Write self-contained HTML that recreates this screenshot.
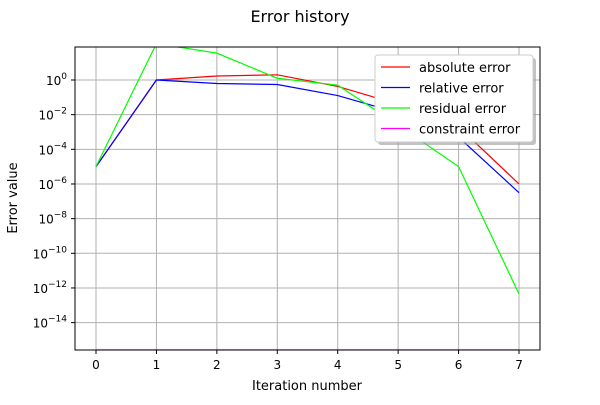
<!DOCTYPE html>
<html><head><meta charset="utf-8"><style>
body{margin:0;background:#fff;}
svg{font-family:"DejaVu Sans","Liberation Sans",sans-serif;}
</style></head><body>
<svg id="c" width="600" height="400" xmlns="http://www.w3.org/2000/svg">
<rect width="600" height="400" fill="#fff"/>
<text x="300" y="22" text-anchor="middle" font-size="16">Error history</text>
<defs><clipPath id="pc"><rect x="75" y="47" width="465" height="303"/></clipPath></defs>
<g id="grid"></g>
<g id="series" clip-path="url(#pc)"></g>
<rect x="75" y="47" width="465" height="303" fill="none" stroke="#000" stroke-width="1"/>
<g id="ticks"></g>
<text x="307" y="390" text-anchor="middle" font-size="13">Iteration number</text>
<text x="17" y="198" text-anchor="middle" font-size="13" transform="rotate(-90 17 198)">Error value</text>
<g id="legend">
<rect x="378" y="58" width="158" height="87" rx="3" fill="#999" opacity="0.6"/>
<rect x="375" y="55" width="158" height="87" rx="3" fill="#fff" stroke="#ccc"/>
</g>
</svg>
<script>
const iterations=[0,1,2,3,4,5,6,7];
const absoluteErr=[-5,0,0.23,0.3,-0.37,-1.4,-2.7,-6];
const relativeErr=[-5,0,-0.2,-0.26,-0.9,-1.9,-3.3,-6.5];
const residualErr=[-5,2.1,1.55,0.1,-0.3,-2.6,-5,-12.35];
const constraintErr=[-16,-16,-16,-16,-16,-16,-16,-16];
const yTicks=[0,-2,-4,-6,-8,-10,-12,-14];
const seriesNames=["absolute error","relative error","residual error","constraint error"];
const seriesColors=["#ff0000","#0000ff","#00ff00","#ff00ff"];
const NS="http://www.w3.org/2000/svg";
const X=v=>96+v*60.43, Y=l=>80-l*17.33;
function mk(t,a,p){const e=document.createElementNS(NS,t);for(const k in a)e.setAttribute(k,a[k]);p.appendChild(e);return e;}
const g=document.getElementById('grid'),tk=document.getElementById('ticks'),s=document.getElementById('series'),lg=document.getElementById('legend');
iterations.forEach(v=>{
 const l=mk('line',{x1:X(v),x2:X(v),y1:47,y2:350,stroke:'#b0b0b0','stroke-width':1},g);
 
 
 mk('line',{x1:X(v),x2:X(v),y1:350,y2:354,stroke:'#000'},tk);
 const t=mk('text',{x:X(v),y:369,'text-anchor':'middle','font-size':12},tk);t.textContent=v;
 
 
});
yTicks.forEach(v=>{
 const l=mk('line',{x1:75,x2:540,y1:Y(v),y2:Y(v),stroke:'#b0b0b0','stroke-width':1},g);
 
 
 mk('line',{x1:71,x2:75,y1:Y(v),y2:Y(v),stroke:'#000'},tk);
 const t=mk('text',{x:67,y:Y(v)+5,'text-anchor':'end','font-size':12},tk);
 
 
 const a=mk('tspan',{},t);a.textContent='10';
 const b=mk('tspan',{dy:-6,'font-size':9},t);b.textContent=(v<0?'\u2212'+(-v):v);
});
[absoluteErr,relativeErr,residualErr,constraintErr].forEach((d,i)=>{
 const p=mk('polyline',{points:d.map((v,j)=>X(iterations[j])+','+(i==3?349.5:Y(v))).join(' '),fill:'none',stroke:seriesColors[i],'stroke-width':1.2,opacity:i==3?0.3:1},s);
 
 
 const y=67+i*20.5;
 mk('line',{x1:381,x2:410,y1:y,y2:y,stroke:seriesColors[i],'stroke-width':1.2},lg);
 const t=mk('text',{x:419,y:y+5,'font-size':13},lg);t.textContent=seriesNames[i];
 
 
});
</script>
</body></html>
